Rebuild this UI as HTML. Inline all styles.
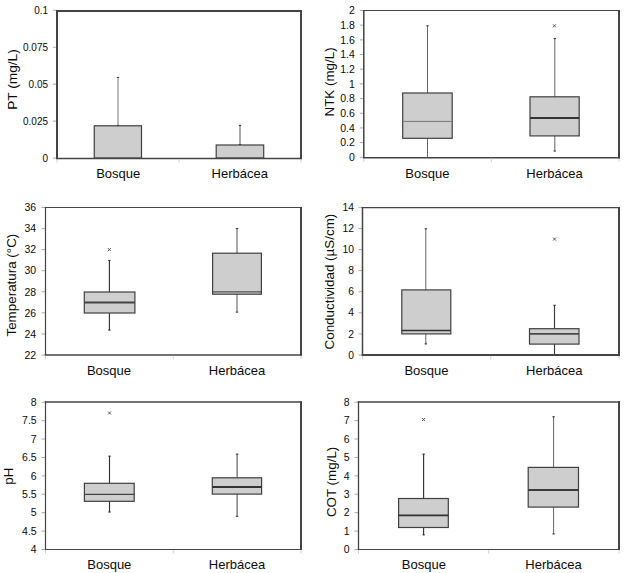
<!DOCTYPE html>
<html><head><meta charset="utf-8"><style>
html,body{margin:0;padding:0;background:#fff;}
svg{display:block;font-family:"Liberation Sans", sans-serif;}
text{fill:#0a0a0a;}
</style></head><body>
<svg width="624" height="573" viewBox="0 0 624 573">
<rect width="624" height="573" fill="#fff"/>
<line x1="53.00" y1="158.10" x2="57.00" y2="158.10" stroke="#aaa" stroke-width="1"/>
<text transform="translate(48.0,161.86) scale(0.95,1)" text-anchor="end" font-size="10.5">0</text>
<line x1="53.00" y1="121.15" x2="57.00" y2="121.15" stroke="#aaa" stroke-width="1"/>
<text transform="translate(48.0,124.91) scale(0.95,1)" text-anchor="end" font-size="10.5">0.025</text>
<line x1="53.00" y1="84.20" x2="57.00" y2="84.20" stroke="#aaa" stroke-width="1"/>
<text transform="translate(48.0,87.96) scale(0.95,1)" text-anchor="end" font-size="10.5">0.05</text>
<line x1="53.00" y1="47.25" x2="57.00" y2="47.25" stroke="#aaa" stroke-width="1"/>
<text transform="translate(48.0,51.01) scale(0.95,1)" text-anchor="end" font-size="10.5">0.075</text>
<line x1="53.00" y1="10.30" x2="57.00" y2="10.30" stroke="#aaa" stroke-width="1"/>
<text transform="translate(48.0,14.06) scale(0.95,1)" text-anchor="end" font-size="10.5">0.1</text>
<line x1="118.00" y1="77.00" x2="118.00" y2="125.80" stroke="#777" stroke-width="1"/>
<line x1="116.80" y1="77.40" x2="119.20" y2="77.40" stroke="#333" stroke-width="1"/>
<line x1="116.80" y1="125.40" x2="119.20" y2="125.40" stroke="#333" stroke-width="1"/>
<rect x="94.25" y="125.8" width="47.25" height="32.20" fill="#cecece" stroke="#404040" stroke-width="1.2"/>
<line x1="240.00" y1="125.00" x2="240.00" y2="145.00" stroke="#555" stroke-width="1"/>
<line x1="238.80" y1="125.40" x2="241.20" y2="125.40" stroke="#333" stroke-width="1"/>
<line x1="238.80" y1="144.60" x2="241.20" y2="144.60" stroke="#333" stroke-width="1"/>
<rect x="216.2" y="145" width="47.50" height="13.00" fill="#cecece" stroke="#404040" stroke-width="1.2"/>
<line x1="57.00" y1="10.00" x2="57.00" y2="159.15" stroke="#444444" stroke-width="2"/>
<line x1="301.00" y1="10.00" x2="301.00" y2="159.15" stroke="#444444" stroke-width="2"/>
<line x1="56.00" y1="11.00" x2="302.00" y2="11.00" stroke="#444444" stroke-width="2"/>
<line x1="56.00" y1="158.50" x2="302.00" y2="158.50" stroke="#444444" stroke-width="1.3"/>
<line x1="57.00" y1="159.15" x2="57.00" y2="162.65" stroke="#d0d0d0" stroke-width="1"/>
<line x1="179.00" y1="159.15" x2="179.00" y2="162.65" stroke="#d0d0d0" stroke-width="1"/>
<line x1="301.00" y1="159.15" x2="301.00" y2="162.65" stroke="#d0d0d0" stroke-width="1"/>
<text x="118.2" y="177.8" text-anchor="middle" font-size="13">Bosque</text>
<text x="239.8" y="177.8" text-anchor="middle" font-size="13">Herbácea</text>
<text transform="translate(16.9,79.5) rotate(-90)" text-anchor="middle" font-size="13.7">PT (mg/L)</text>
<line x1="359.80" y1="157.30" x2="363.80" y2="157.30" stroke="#aaa" stroke-width="1"/>
<text x="354.9" y="161.06" text-anchor="end" font-size="10.5">0</text>
<line x1="359.80" y1="142.62" x2="363.80" y2="142.62" stroke="#aaa" stroke-width="1"/>
<text x="354.9" y="146.38" text-anchor="end" font-size="10.5">0.2</text>
<line x1="359.80" y1="127.94" x2="363.80" y2="127.94" stroke="#aaa" stroke-width="1"/>
<text x="354.9" y="131.70" text-anchor="end" font-size="10.5">0.4</text>
<line x1="359.80" y1="113.26" x2="363.80" y2="113.26" stroke="#aaa" stroke-width="1"/>
<text x="354.9" y="117.02" text-anchor="end" font-size="10.5">0.6</text>
<line x1="359.80" y1="98.58" x2="363.80" y2="98.58" stroke="#aaa" stroke-width="1"/>
<text x="354.9" y="102.34" text-anchor="end" font-size="10.5">0.8</text>
<line x1="359.80" y1="83.90" x2="363.80" y2="83.90" stroke="#aaa" stroke-width="1"/>
<text x="354.9" y="87.66" text-anchor="end" font-size="10.5">1</text>
<line x1="359.80" y1="69.22" x2="363.80" y2="69.22" stroke="#aaa" stroke-width="1"/>
<text x="354.9" y="72.98" text-anchor="end" font-size="10.5">1.2</text>
<line x1="359.80" y1="54.54" x2="363.80" y2="54.54" stroke="#aaa" stroke-width="1"/>
<text x="354.9" y="58.30" text-anchor="end" font-size="10.5">1.4</text>
<line x1="359.80" y1="39.86" x2="363.80" y2="39.86" stroke="#aaa" stroke-width="1"/>
<text x="354.9" y="43.62" text-anchor="end" font-size="10.5">1.6</text>
<line x1="359.80" y1="25.18" x2="363.80" y2="25.18" stroke="#aaa" stroke-width="1"/>
<text x="354.9" y="28.94" text-anchor="end" font-size="10.5">1.8</text>
<line x1="359.80" y1="10.50" x2="363.80" y2="10.50" stroke="#aaa" stroke-width="1"/>
<text x="354.9" y="14.26" text-anchor="end" font-size="10.5">2</text>
<line x1="427.50" y1="25.50" x2="427.50" y2="157.50" stroke="#666" stroke-width="1"/>
<line x1="426.30" y1="25.90" x2="428.70" y2="25.90" stroke="#333" stroke-width="1"/>
<rect x="402.7" y="93" width="49.50" height="45.30" fill="#cecece" stroke="#404040" stroke-width="1.2"/>
<line x1="402.70" y1="121.40" x2="452.20" y2="121.40" stroke="#777" stroke-width="1"/>
<line x1="554.80" y1="38.20" x2="554.80" y2="151.40" stroke="#666" stroke-width="1"/>
<line x1="553.60" y1="38.60" x2="556.00" y2="38.60" stroke="#333" stroke-width="1"/>
<line x1="553.60" y1="151.00" x2="556.00" y2="151.00" stroke="#333" stroke-width="1"/>
<rect x="530" y="96.8" width="49.20" height="39.10" fill="#cecece" stroke="#404040" stroke-width="1.2"/>
<line x1="530.00" y1="118.00" x2="579.20" y2="118.00" stroke="#333" stroke-width="2"/>
<line x1="552.90" y1="24.30" x2="555.90" y2="27.30" stroke="#444" stroke-width="0.9"/>
<line x1="552.90" y1="27.30" x2="555.90" y2="24.30" stroke="#444" stroke-width="0.9"/>
<line x1="363.80" y1="10.00" x2="363.80" y2="158.45" stroke="#444444" stroke-width="1.5"/>
<line x1="619.00" y1="10.00" x2="619.00" y2="158.45" stroke="#444444" stroke-width="2"/>
<line x1="363.05" y1="10.50" x2="620.00" y2="10.50" stroke="#444444" stroke-width="1"/>
<line x1="363.05" y1="157.70" x2="620.00" y2="157.70" stroke="#444444" stroke-width="1.5"/>
<line x1="363.80" y1="158.45" x2="363.80" y2="161.95" stroke="#d0d0d0" stroke-width="1"/>
<line x1="491.40" y1="158.45" x2="491.40" y2="161.95" stroke="#d0d0d0" stroke-width="1"/>
<line x1="619.00" y1="158.45" x2="619.00" y2="161.95" stroke="#d0d0d0" stroke-width="1"/>
<text x="427.4" y="177.8" text-anchor="middle" font-size="13">Bosque</text>
<text x="554.5" y="177.8" text-anchor="middle" font-size="13">Herbácea</text>
<text transform="translate(333.5,81.9) rotate(-90)" text-anchor="middle" font-size="13.4">NTK (mg/L)</text>
<line x1="41.50" y1="355.00" x2="45.50" y2="355.00" stroke="#aaa" stroke-width="1"/>
<text x="36.2" y="358.76" text-anchor="end" font-size="10.5">22</text>
<line x1="41.50" y1="333.93" x2="45.50" y2="333.93" stroke="#aaa" stroke-width="1"/>
<text x="36.2" y="337.69" text-anchor="end" font-size="10.5">24</text>
<line x1="41.50" y1="312.86" x2="45.50" y2="312.86" stroke="#aaa" stroke-width="1"/>
<text x="36.2" y="316.62" text-anchor="end" font-size="10.5">26</text>
<line x1="41.50" y1="291.79" x2="45.50" y2="291.79" stroke="#aaa" stroke-width="1"/>
<text x="36.2" y="295.54" text-anchor="end" font-size="10.5">28</text>
<line x1="41.50" y1="270.71" x2="45.50" y2="270.71" stroke="#aaa" stroke-width="1"/>
<text x="36.2" y="274.47" text-anchor="end" font-size="10.5">30</text>
<line x1="41.50" y1="249.64" x2="45.50" y2="249.64" stroke="#aaa" stroke-width="1"/>
<text x="36.2" y="253.40" text-anchor="end" font-size="10.5">32</text>
<line x1="41.50" y1="228.57" x2="45.50" y2="228.57" stroke="#aaa" stroke-width="1"/>
<text x="36.2" y="232.33" text-anchor="end" font-size="10.5">34</text>
<line x1="41.50" y1="207.50" x2="45.50" y2="207.50" stroke="#aaa" stroke-width="1"/>
<text x="36.2" y="211.26" text-anchor="end" font-size="10.5">36</text>
<line x1="109.40" y1="260.00" x2="109.40" y2="330.40" stroke="#333" stroke-width="1.15"/>
<line x1="108.20" y1="260.40" x2="110.60" y2="260.40" stroke="#333" stroke-width="1"/>
<line x1="108.20" y1="330.00" x2="110.60" y2="330.00" stroke="#333" stroke-width="1"/>
<rect x="84.3" y="292" width="50.60" height="21.00" fill="#cecece" stroke="#404040" stroke-width="1.2"/>
<line x1="84.30" y1="302.40" x2="134.90" y2="302.40" stroke="#444" stroke-width="2"/>
<line x1="107.90" y1="248.10" x2="110.90" y2="251.10" stroke="#444" stroke-width="0.9"/>
<line x1="107.90" y1="251.10" x2="110.90" y2="248.10" stroke="#444" stroke-width="0.9"/>
<line x1="237.00" y1="228.20" x2="237.00" y2="312.50" stroke="#555" stroke-width="1"/>
<line x1="235.80" y1="228.60" x2="238.20" y2="228.60" stroke="#333" stroke-width="1"/>
<line x1="235.80" y1="312.10" x2="238.20" y2="312.10" stroke="#333" stroke-width="1"/>
<rect x="212.6" y="253.2" width="48.80" height="41.00" fill="#cecece" stroke="#404040" stroke-width="1.2"/>
<line x1="212.60" y1="291.90" x2="261.40" y2="291.90" stroke="#333" stroke-width="1"/>
<line x1="45.50" y1="206.90" x2="45.50" y2="355.75" stroke="#444444" stroke-width="1.2"/>
<line x1="301.00" y1="206.90" x2="301.00" y2="355.75" stroke="#444444" stroke-width="2"/>
<line x1="44.90" y1="207.50" x2="302.00" y2="207.50" stroke="#444444" stroke-width="1.2"/>
<line x1="44.90" y1="355.00" x2="302.00" y2="355.00" stroke="#444444" stroke-width="1.5"/>
<line x1="45.50" y1="355.75" x2="45.50" y2="359.25" stroke="#d0d0d0" stroke-width="1"/>
<line x1="173.25" y1="355.75" x2="173.25" y2="359.25" stroke="#d0d0d0" stroke-width="1"/>
<line x1="301.00" y1="355.75" x2="301.00" y2="359.25" stroke="#d0d0d0" stroke-width="1"/>
<text x="109" y="374.8" text-anchor="middle" font-size="13">Bosque</text>
<text x="237" y="374.8" text-anchor="middle" font-size="13">Herbácea</text>
<text transform="translate(15.8,285.1) rotate(-90)" text-anchor="middle" font-size="13.4">Temperatura (°C)</text>
<line x1="358.50" y1="355.00" x2="362.50" y2="355.00" stroke="#aaa" stroke-width="1"/>
<text x="353.9" y="358.69" text-anchor="end" font-size="10.3">0</text>
<line x1="358.50" y1="333.90" x2="362.50" y2="333.90" stroke="#aaa" stroke-width="1"/>
<text x="353.9" y="337.59" text-anchor="end" font-size="10.3">2</text>
<line x1="358.50" y1="312.80" x2="362.50" y2="312.80" stroke="#aaa" stroke-width="1"/>
<text x="353.9" y="316.49" text-anchor="end" font-size="10.3">4</text>
<line x1="358.50" y1="291.70" x2="362.50" y2="291.70" stroke="#aaa" stroke-width="1"/>
<text x="353.9" y="295.39" text-anchor="end" font-size="10.3">6</text>
<line x1="358.50" y1="270.60" x2="362.50" y2="270.60" stroke="#aaa" stroke-width="1"/>
<text x="353.9" y="274.29" text-anchor="end" font-size="10.3">8</text>
<line x1="358.50" y1="249.50" x2="362.50" y2="249.50" stroke="#aaa" stroke-width="1"/>
<text x="353.9" y="253.19" text-anchor="end" font-size="10.3">10</text>
<line x1="358.50" y1="228.40" x2="362.50" y2="228.40" stroke="#aaa" stroke-width="1"/>
<text x="353.9" y="232.09" text-anchor="end" font-size="10.3">12</text>
<line x1="358.50" y1="207.30" x2="362.50" y2="207.30" stroke="#aaa" stroke-width="1"/>
<text x="353.9" y="210.99" text-anchor="end" font-size="10.3">14</text>
<line x1="425.80" y1="228.40" x2="425.80" y2="344.30" stroke="#666" stroke-width="1"/>
<line x1="424.60" y1="228.80" x2="427.00" y2="228.80" stroke="#333" stroke-width="1"/>
<line x1="424.60" y1="343.90" x2="427.00" y2="343.90" stroke="#333" stroke-width="1"/>
<rect x="401.8" y="289.9" width="49.00" height="44.00" fill="#cecece" stroke="#404040" stroke-width="1.2"/>
<line x1="401.80" y1="330.50" x2="450.80" y2="330.50" stroke="#333" stroke-width="1.6"/>
<line x1="554.50" y1="304.90" x2="554.50" y2="355.00" stroke="#3a3a3a" stroke-width="1.15"/>
<line x1="553.30" y1="305.30" x2="555.70" y2="305.30" stroke="#333" stroke-width="1"/>
<rect x="529.5" y="328.7" width="49.50" height="15.40" fill="#cecece" stroke="#404040" stroke-width="1.2"/>
<line x1="529.50" y1="333.90" x2="579.00" y2="333.90" stroke="#484848" stroke-width="1.8"/>
<line x1="553.00" y1="237.60" x2="556.00" y2="240.60" stroke="#444" stroke-width="0.9"/>
<line x1="553.00" y1="240.60" x2="556.00" y2="237.60" stroke="#444" stroke-width="0.9"/>
<line x1="362.50" y1="206.95" x2="362.50" y2="356.00" stroke="#444444" stroke-width="1.5"/>
<line x1="619.00" y1="206.95" x2="619.00" y2="356.00" stroke="#444444" stroke-width="2"/>
<line x1="361.75" y1="207.60" x2="620.00" y2="207.60" stroke="#444444" stroke-width="1.3"/>
<line x1="361.75" y1="355.00" x2="620.00" y2="355.00" stroke="#444444" stroke-width="2"/>
<line x1="362.50" y1="356.00" x2="362.50" y2="359.50" stroke="#d0d0d0" stroke-width="1"/>
<line x1="490.75" y1="356.00" x2="490.75" y2="359.50" stroke="#d0d0d0" stroke-width="1"/>
<line x1="619.00" y1="356.00" x2="619.00" y2="359.50" stroke="#d0d0d0" stroke-width="1"/>
<text x="426.5" y="374.6" text-anchor="middle" font-size="13">Bosque</text>
<text x="554.3" y="374.6" text-anchor="middle" font-size="13">Herbácea</text>
<text transform="translate(334,281.6) rotate(-90)" text-anchor="middle" font-size="13.4">Conductividad (µS/cm)</text>
<line x1="41.50" y1="549.50" x2="45.50" y2="549.50" stroke="#aaa" stroke-width="1"/>
<text x="36.7" y="553.26" text-anchor="end" font-size="10.5">4</text>
<line x1="41.50" y1="531.09" x2="45.50" y2="531.09" stroke="#aaa" stroke-width="1"/>
<text x="36.7" y="534.85" text-anchor="end" font-size="10.5">4.5</text>
<line x1="41.50" y1="512.67" x2="45.50" y2="512.67" stroke="#aaa" stroke-width="1"/>
<text x="36.7" y="516.43" text-anchor="end" font-size="10.5">5</text>
<line x1="41.50" y1="494.26" x2="45.50" y2="494.26" stroke="#aaa" stroke-width="1"/>
<text x="36.7" y="498.02" text-anchor="end" font-size="10.5">5.5</text>
<line x1="41.50" y1="475.85" x2="45.50" y2="475.85" stroke="#aaa" stroke-width="1"/>
<text x="36.7" y="479.61" text-anchor="end" font-size="10.5">6</text>
<line x1="41.50" y1="457.44" x2="45.50" y2="457.44" stroke="#aaa" stroke-width="1"/>
<text x="36.7" y="461.20" text-anchor="end" font-size="10.5">6.5</text>
<line x1="41.50" y1="439.02" x2="45.50" y2="439.02" stroke="#aaa" stroke-width="1"/>
<text x="36.7" y="442.78" text-anchor="end" font-size="10.5">7</text>
<line x1="41.50" y1="420.61" x2="45.50" y2="420.61" stroke="#aaa" stroke-width="1"/>
<text x="36.7" y="424.37" text-anchor="end" font-size="10.5">7.5</text>
<line x1="41.50" y1="402.20" x2="45.50" y2="402.20" stroke="#aaa" stroke-width="1"/>
<text x="36.7" y="405.96" text-anchor="end" font-size="10.5">8</text>
<line x1="109.50" y1="455.80" x2="109.50" y2="512.40" stroke="#333" stroke-width="1.15"/>
<line x1="108.30" y1="456.20" x2="110.70" y2="456.20" stroke="#333" stroke-width="1"/>
<line x1="108.30" y1="512.00" x2="110.70" y2="512.00" stroke="#333" stroke-width="1"/>
<rect x="84.4" y="483.3" width="49.80" height="18.00" fill="#cecece" stroke="#404040" stroke-width="1.2"/>
<line x1="84.40" y1="494.30" x2="134.20" y2="494.30" stroke="#444" stroke-width="1.3"/>
<line x1="108.00" y1="411.50" x2="111.00" y2="414.50" stroke="#444" stroke-width="0.9"/>
<line x1="108.00" y1="414.50" x2="111.00" y2="411.50" stroke="#444" stroke-width="0.9"/>
<line x1="237.10" y1="453.80" x2="237.10" y2="516.70" stroke="#444" stroke-width="1"/>
<line x1="235.90" y1="454.20" x2="238.30" y2="454.20" stroke="#333" stroke-width="1"/>
<line x1="235.90" y1="516.30" x2="238.30" y2="516.30" stroke="#333" stroke-width="1"/>
<rect x="212.3" y="477.8" width="49.30" height="16.30" fill="#cecece" stroke="#404040" stroke-width="1.2"/>
<line x1="212.30" y1="486.90" x2="261.60" y2="486.90" stroke="#333" stroke-width="2"/>
<line x1="45.50" y1="401.20" x2="45.50" y2="550.10" stroke="#444444" stroke-width="1.2"/>
<line x1="301.00" y1="401.20" x2="301.00" y2="550.10" stroke="#444444" stroke-width="2"/>
<line x1="44.90" y1="402.00" x2="302.00" y2="402.00" stroke="#444444" stroke-width="1.6"/>
<line x1="44.90" y1="549.50" x2="302.00" y2="549.50" stroke="#444444" stroke-width="1.2"/>
<line x1="45.50" y1="550.10" x2="45.50" y2="553.60" stroke="#d0d0d0" stroke-width="1"/>
<line x1="173.25" y1="550.10" x2="173.25" y2="553.60" stroke="#d0d0d0" stroke-width="1"/>
<line x1="301.00" y1="550.10" x2="301.00" y2="553.60" stroke="#d0d0d0" stroke-width="1"/>
<text x="109.3" y="569.2" text-anchor="middle" font-size="13">Bosque</text>
<text x="237" y="569.2" text-anchor="middle" font-size="13">Herbácea</text>
<text transform="translate(13,476.1) rotate(-90)" text-anchor="middle" font-size="13.4">pH</text>
<line x1="354.50" y1="549.50" x2="358.50" y2="549.50" stroke="#aaa" stroke-width="1"/>
<text x="349.6" y="553.26" text-anchor="end" font-size="10.5">0</text>
<line x1="354.50" y1="531.09" x2="358.50" y2="531.09" stroke="#aaa" stroke-width="1"/>
<text x="349.6" y="534.85" text-anchor="end" font-size="10.5">1</text>
<line x1="354.50" y1="512.67" x2="358.50" y2="512.67" stroke="#aaa" stroke-width="1"/>
<text x="349.6" y="516.43" text-anchor="end" font-size="10.5">2</text>
<line x1="354.50" y1="494.26" x2="358.50" y2="494.26" stroke="#aaa" stroke-width="1"/>
<text x="349.6" y="498.02" text-anchor="end" font-size="10.5">3</text>
<line x1="354.50" y1="475.85" x2="358.50" y2="475.85" stroke="#aaa" stroke-width="1"/>
<text x="349.6" y="479.61" text-anchor="end" font-size="10.5">4</text>
<line x1="354.50" y1="457.44" x2="358.50" y2="457.44" stroke="#aaa" stroke-width="1"/>
<text x="349.6" y="461.20" text-anchor="end" font-size="10.5">5</text>
<line x1="354.50" y1="439.02" x2="358.50" y2="439.02" stroke="#aaa" stroke-width="1"/>
<text x="349.6" y="442.78" text-anchor="end" font-size="10.5">6</text>
<line x1="354.50" y1="420.61" x2="358.50" y2="420.61" stroke="#aaa" stroke-width="1"/>
<text x="349.6" y="424.37" text-anchor="end" font-size="10.5">7</text>
<line x1="354.50" y1="402.20" x2="358.50" y2="402.20" stroke="#aaa" stroke-width="1"/>
<text x="349.6" y="405.96" text-anchor="end" font-size="10.5">8</text>
<line x1="423.60" y1="453.80" x2="423.60" y2="535.20" stroke="#333" stroke-width="1.15"/>
<line x1="422.40" y1="454.20" x2="424.80" y2="454.20" stroke="#333" stroke-width="1"/>
<line x1="422.40" y1="534.80" x2="424.80" y2="534.80" stroke="#333" stroke-width="1"/>
<rect x="398.6" y="498.5" width="49.70" height="29.00" fill="#cecece" stroke="#404040" stroke-width="1.2"/>
<line x1="398.60" y1="515.30" x2="448.30" y2="515.30" stroke="#333" stroke-width="1.8"/>
<line x1="422.10" y1="418.00" x2="425.10" y2="421.00" stroke="#444" stroke-width="0.9"/>
<line x1="422.10" y1="421.00" x2="425.10" y2="418.00" stroke="#444" stroke-width="0.9"/>
<line x1="553.60" y1="416.40" x2="553.60" y2="534.30" stroke="#666" stroke-width="1"/>
<line x1="552.40" y1="416.80" x2="554.80" y2="416.80" stroke="#333" stroke-width="1"/>
<line x1="552.40" y1="533.90" x2="554.80" y2="533.90" stroke="#333" stroke-width="1"/>
<rect x="528.2" y="467.4" width="50.30" height="39.70" fill="#cecece" stroke="#404040" stroke-width="1.2"/>
<line x1="528.20" y1="489.90" x2="578.50" y2="489.90" stroke="#3a3a3a" stroke-width="2"/>
<line x1="358.50" y1="401.20" x2="358.50" y2="550.10" stroke="#444444" stroke-width="1.3"/>
<line x1="619.00" y1="401.20" x2="619.00" y2="550.10" stroke="#444444" stroke-width="2"/>
<line x1="357.85" y1="402.00" x2="620.00" y2="402.00" stroke="#444444" stroke-width="1.6"/>
<line x1="357.85" y1="549.50" x2="620.00" y2="549.50" stroke="#444444" stroke-width="1.2"/>
<line x1="358.50" y1="550.10" x2="358.50" y2="553.60" stroke="#d0d0d0" stroke-width="1"/>
<line x1="488.75" y1="550.10" x2="488.75" y2="553.60" stroke="#d0d0d0" stroke-width="1"/>
<line x1="619.00" y1="550.10" x2="619.00" y2="553.60" stroke="#d0d0d0" stroke-width="1"/>
<text x="423.9" y="569.2" text-anchor="middle" font-size="13">Bosque</text>
<text x="553.5" y="569.2" text-anchor="middle" font-size="13">Herbácea</text>
<text transform="translate(335.5,481.9) rotate(-90)" text-anchor="middle" font-size="13.4">COT (mg/L)</text>
</svg>
</body></html>
